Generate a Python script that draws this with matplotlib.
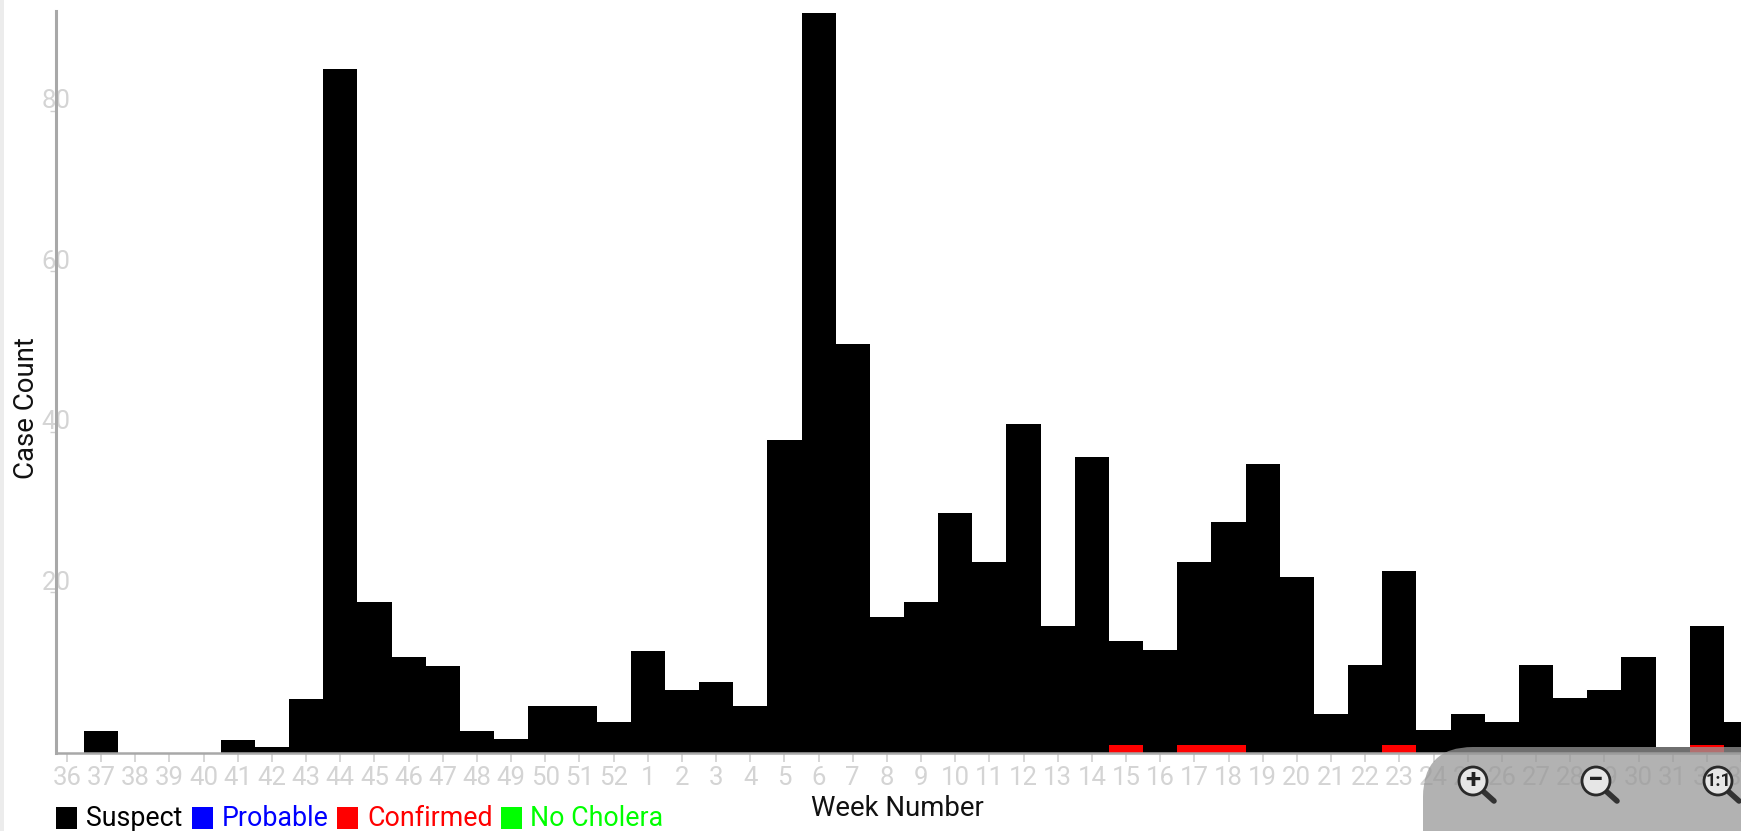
"""
Weekly cholera case counts with the map-style zoom controls on top.
"""

from __future__ import annotations

import matplotlib
matplotlib.use("Agg")

import matplotlib.pyplot as plt
import numpy as np
from matplotlib.patches import Circle, FancyBboxPatch, Rectangle
from matplotlib.transforms import ScaledTranslation

WEEKS = list(range(36, 53)) + list(range(1, 34))
TOTALS = [
    0, 2.8, 0, 0, 0, 1.6, 0.8, 6.75, 85.2, 18.8, 11.9, 10.8, 2.8, 1.7, 5.9, 5.9, 3.85,
    12.75, 7.9, 8.9, 5.9, 39.0, 92.1, 50.9, 16.9, 18.8, 29.9, 23.8, 41.0, 15.8, 36.8, 13.9,
    12.85, 23.8, 28.8, 36.0, 21.9, 4.8, 10.9, 22.7, 2.9, 4.8, 3.9, 10.9, 6.8, 7.8, 11.9,
    0.8, 15.8, 3.9,
]
CONFIRMED_WEEKS = [15, 17, 18, 23, 32]
CONFIRMED_HEIGHT = 0.95
Y_TICKS = [20, 40, 60, 80]
LEGEND_NAMES = ["Suspect", "Probable", "Confirmed", "No Cholera"]
LEGEND_COLORS = ["#000000", "#0000ff", "#ff0000", "#00ff00"]

WIDTH, HEIGHT = 1741, 831
FONT = "Roboto"
LABEL_GREY = "#d4d4d4"
AXIS_GREY = "#a8a8a8"


def draw_chart(ax):
    x_pos = np.arange(len(WEEKS))
    totals = np.array(TOTALS)
    confirmed = np.array([CONFIRMED_HEIGHT if w in CONFIRMED_WEEKS else 0 for w in WEEKS])

    ax.bar(x_pos, confirmed, width=1.0, color="#ff0000", linewidth=0)
    ax.bar(x_pos, totals - confirmed, bottom=confirmed, width=1.0, color="#000000", linewidth=0)

    # 67 px is the centre of the first week, 34.2 px per week
    ax.set_xlim(-11 / 34.2, (WIDTH - 67) / 34.2)
    ax.set_ylim(0, 742 / 8.03)

    ax.set_xticks(x_pos, [str(w) for w in WEEKS])
    ax.set_yticks(Y_TICKS, [str(v) for v in Y_TICKS])
    ax.tick_params(axis="x", length=6.5, width=1.2, color="#d0d0d0", labelcolor=LABEL_GREY, labelsize=18.5, pad=3)
    ax.tick_params(axis="y", length=4, width=1, color="#d0d0d0", labelcolor=LABEL_GREY, labelsize=18.5, pad=-4)

    fig = ax.figure
    shift = ScaledTranslation(0, 12 / fig.dpi, fig.dpi_scale_trans)
    for label in ax.get_yticklabels():
        label.set_ha("center")
        label.set_transform(label.get_transform() + shift)

    for side in ["top", "right"]:
        ax.spines[side].set_visible(False)
    ax.spines["left"].set_color(AXIS_GREY)
    ax.spines["left"].set_linewidth(2.2)
    ax.spines["bottom"].set_color(AXIS_GREY)
    ax.spines["bottom"].set_linewidth(1.8)


def draw_legend(over):
    squares = [56, 192, 337, 501]
    texts = [86, 222, 367, 530]
    for name, color, sq_x, txt_x in zip(LEGEND_NAMES, LEGEND_COLORS, squares, texts):
        over.add_patch(Rectangle((sq_x, 807), 21, 22, color=color, linewidth=0))
        over.text(txt_x, 818, name, color=color, fontsize=19.3, ha="left", va="center", family=FONT)


def draw_magnifier(over, cx, cy, symbol):
    over.plot([cx + 11, cx + 21], [cy + 11, cy + 20], color="#333333", lw=4, solid_capstyle="round", zorder=5)
    over.add_patch(Circle((cx, cy), 14, facecolor="#e6e6e6", edgecolor="#2a2a2a", linewidth=2, zorder=6))
    over.text(cx, cy, symbol, color="#222222", fontsize=13 if symbol == "1:1" else 20, fontweight="bold",
              ha="center", va="center", family=FONT, zorder=7)


def draw_overlay(over):
    over.set_xlim(0, WIDTH)
    over.set_ylim(HEIGHT, 0)
    over.axis("off")

    # faint strip on the far left of the screenshot
    over.add_patch(Rectangle((0, 0), 4, HEIGHT, color="#ececec", linewidth=0))

    over.text(27, 408, "Case Count", rotation=90, fontsize=19.8, color="#111111", ha="center", va="center", family=FONT)
    over.text(897, 808, "Week Number", fontsize=19.8, color="#111111", ha="center", va="center", family=FONT)
    draw_legend(over)

    # zoom controls panel runs off the right and bottom edges
    over.add_patch(FancyBboxPatch((1423 + 50, 747 + 50), 500, 200, boxstyle="round,pad=50,rounding_size=50",
                                  facecolor="#979797", edgecolor="none", alpha=0.74, zorder=4))
    draw_magnifier(over, 1473, 781, "+")
    draw_magnifier(over, 1596, 781, "\u2212")
    draw_magnifier(over, 1718, 781, "1:1")


def main():
    fig = plt.figure(figsize=(WIDTH / 100, HEIGHT / 100), dpi=100)
    plt.rcParams["font.family"] = [FONT, "DejaVu Sans"]
    ax = fig.add_axes([56 / WIDTH, (HEIGHT - 753) / HEIGHT, (WIDTH - 56) / WIDTH, 742 / HEIGHT])
    draw_chart(ax)
    over = fig.add_axes([0, 0, 1, 1], facecolor="none")
    draw_overlay(over)
    fig.savefig("out.png", dpi=100)
    plt.close(fig)


if __name__ == "__main__":
    main()
